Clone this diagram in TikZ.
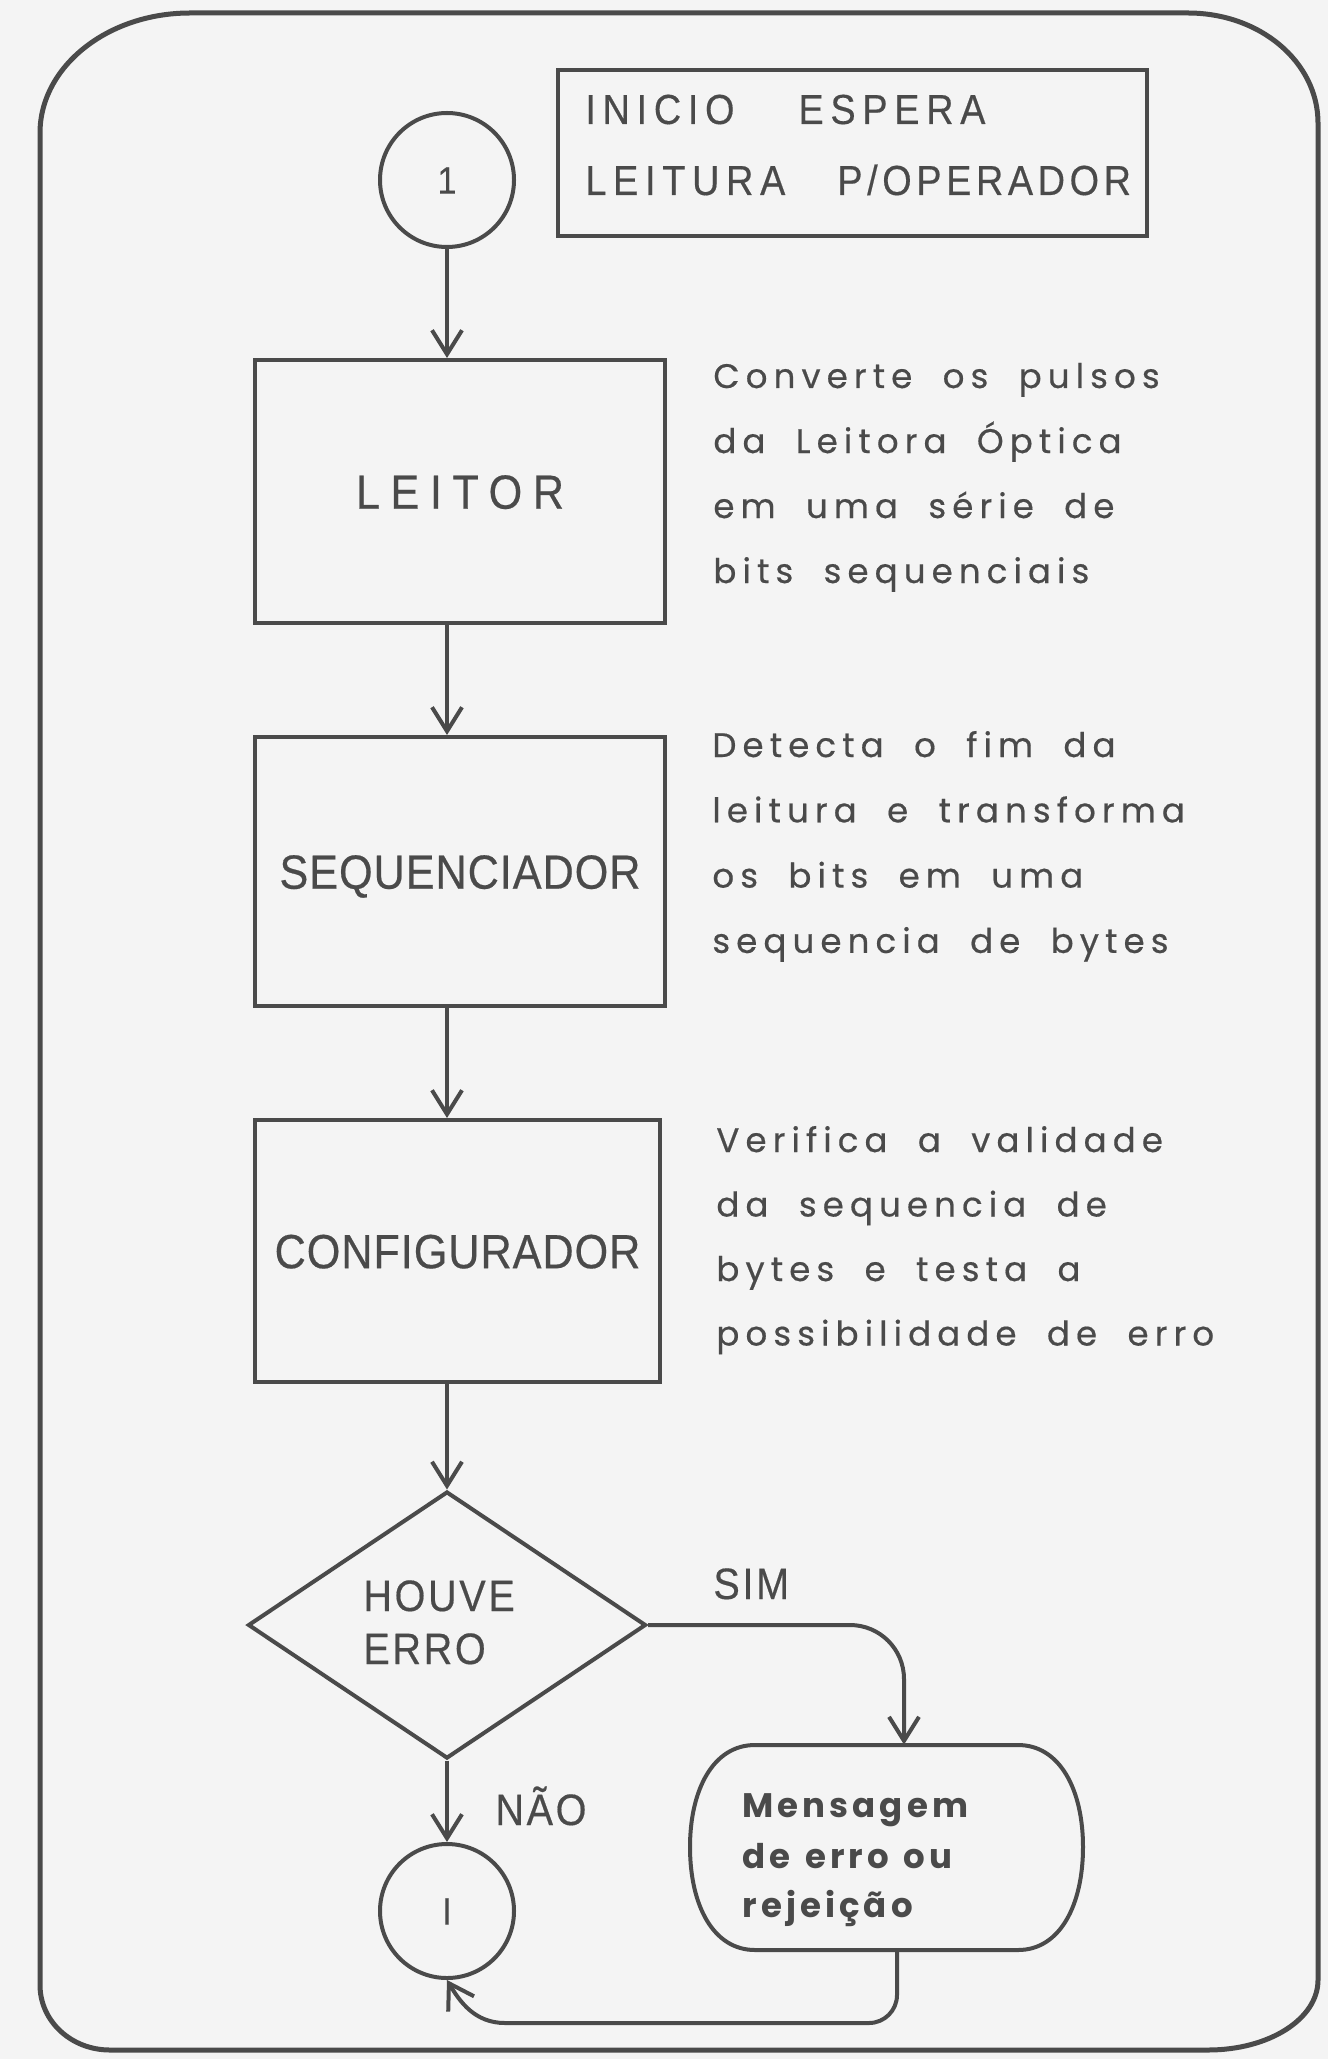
\documentclass[tikz,border=0pt]{standalone}
\usepackage{fontspec}
\setmainfont{Liberation Sans}
\newfontfamily\capsf[FakeStretch=0.9,FakeBold=0.4]{Liberation Sans}
\newfontfamily\descf[FakeBold=0.5,WordSpace=2.0]{Poppins}
\newfontfamily\msgf[WordSpace=1.3]{Poppins}
\usetikzlibrary{arrows.meta,shapes.geometric,calc}
\definecolor{ink}{HTML}{4A4A4A}
\definecolor{paper}{HTML}{F4F4F4}
\begin{document}
\begin{tikzpicture}[x=0.5pt,y=-0.5pt,
  line/.style={draw=ink, line width=2pt},
  arr/.style={draw=ink, line width=2pt, -{Straight Barb[length=12pt,width=15pt,line width=2pt]}},
  procbox/.style={line, rectangle, inner sep=0pt, text=ink,
    font=\capsf\fontsize{24}{28}\selectfont\addfontfeature{LetterSpace=2},
    text height=17.2pt, text depth=0pt},
  conn/.style={line, circle, inner sep=0pt, minimum size=67pt, text=ink,
    font=\capsf\fontsize{19}{22}\selectfont, text height=13.6pt, text depth=0pt},
  capl/.style={inner sep=0pt, text=ink, anchor=base west,
    font=\capsf\fontsize{22}{26}\selectfont\addfontfeature{LetterSpace=6}},
  inil/.style={inner sep=0pt, text=ink, anchor=base west,
    font=\capsf\fontsize{21}{26}\selectfont\addfontfeature{LetterSpace=16}},
  desc/.style={inner sep=0pt, text=ink, anchor=base west,
    font=\descf\fontsize{17}{20}\selectfont\addfontfeature{LetterSpace=18}},
  msgt/.style={inner sep=0pt, text=ink, anchor=base west,
    font=\msgf\bfseries\fontsize{17}{20}\selectfont\addfontfeature{LetterSpace=12}},
]
\useasboundingbox[fill=paper] (0,0) rectangle (1328,2059);

% outer frame
\draw[draw=ink, line width=2.5pt]
  (190,13) -- (1188,13) .. controls (1260,13) and (1318,62) .. (1318,123)
  -- (1318,1980) .. controls (1318,2019) and (1269,2050) .. (1208,2050)
  -- (110,2050) .. controls (71,2050) and (40,2021) .. (40,1985)
  -- (40,133) .. controls (40,67) and (107,13) .. (190,13) -- cycle;

% start connector and note
\node[conn] (c1) at (447,180) {1};
\node[line, rectangle, inner sep=0pt, minimum width=294.5pt, minimum height=83pt] (inicio) at (852.5,153) {};
\node[inil] (ini1) at (585,124) {INICIO\hspace{32pt}ESPERA};
\node[inil] (ini2) at (585,195) {LEITURA\hspace{26pt}\addfontfeature{LetterSpace=11}P/OPERADOR};

% process boxes
\node[procbox, minimum width=205pt, minimum height=131.5pt] (leitor) at (460,491.5)
  {\addfontfeature{LetterSpace=22}LEITOR};
\node[procbox, minimum width=205pt, minimum height=134.5pt] (seq) at (460,871.5) {SEQUENCIADOR};
\node[procbox, minimum width=202.5pt, minimum height=131pt] (config) at (457.5,1251) {CONFIGURADOR};

% descriptions
\foreach \t [count=\i] in {Converte os pulsos, da Leitora Óptica, em uma série de, bits sequenciais}
  \node[desc] (da\i) at (713,{388+(\i-1)*65}) {\t};
\foreach \t [count=\i] in {Detecta o fim da, leitura e transforma, os bits em uma, sequencia de bytes}
  \node[desc] (db\i) at (712,{757+(\i-1)*65.3}) {\t};
\foreach \t [count=\i] in {Verifica a validade, da sequencia de, bytes e testa a, possibilidade de erro}
  \node[desc] (dc\i) at (716,{1152+(\i-1)*64.5}) {\t};

% decision
\node[line, diamond, inner sep=0pt, minimum width=199pt, minimum height=133.5pt] (dia) at (447,1625) {};
\node[capl] (houve) at (363,1611) {HOUVE};
\node[capl] (erro) at (363,1664) {ERRO};
\node[capl] (sim) at (713,1599) {SIM};
\node[capl] (nao) at (495,1825) {NÃO};

% message terminal
\node[inner sep=0pt, minimum width=196.5pt, minimum height=102.5pt] (msg) at (886.5,1847.5) {};
\draw[line] (755,1745) -- (1018,1745) .. controls (1060,1745) and (1083,1790) .. (1083,1847)
  .. controls (1083,1905) and (1060,1950) .. (1018,1950) -- (755,1950)
  .. controls (713,1950) and (690,1905) .. (690,1847)
  .. controls (690,1790) and (713,1745) .. (755,1745) -- cycle;
\node[msgt] (m1) at (742,1817) {Mensagem};
\node[msgt] (m2) at (742,1868) {de erro ou};
\node[msgt] (m3) at (742,1917) {rejeição};

% end connector
\node[conn] (c2) at (447,1911) {I};

% connectors
\coordinate (msgin) at (904,1625);
\coordinate (ret) at (897,2023);
\draw[arr] (c1.south) -- (c1.south |- leitor.north);
\draw[arr] (leitor.south -| c1) -- (seq.north -| c1);
\draw[arr] (seq.south -| c1) -- (config.north -| c1);
\draw[arr] (config.south -| dia.north) -- (dia.north);
\draw[arr, rounded corners=27pt] (dia.east) -- (msgin) -- (msg.north -| msgin);
\draw[arr] (dia.south) -- (c2.north);
\draw[arr] (msg.south -| ret) {[rounded corners=14pt] -- (ret) -- (700,2023)} -- (505,2023)
  .. controls (475,2023) and (460,2002) .. (c2.south);
\end{tikzpicture}
\end{document}
